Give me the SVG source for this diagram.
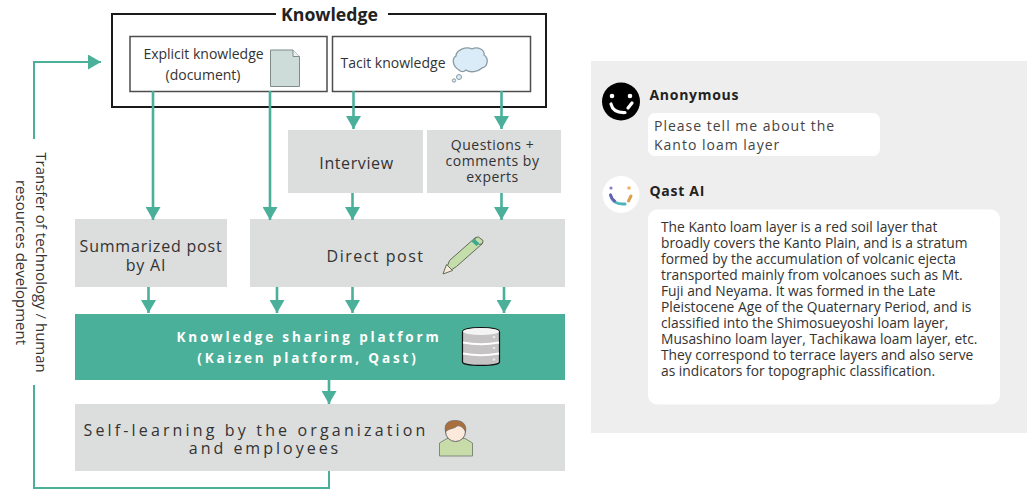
<svg xmlns="http://www.w3.org/2000/svg" width="1029" height="489" viewBox="0 0 1029 489">
<style>
text{font-family:"Open Sans","Noto Sans","Liberation Sans",sans-serif;fill:#333;text-anchor:middle}
.box{fill:#dcdddd}
.k{fill:#fff;stroke:#4d4d4d;stroke-width:1.5}
.ln{fill:none;stroke:#4bb09a;stroke-width:2.6}
.thin{fill:none;stroke:#4bb09a;stroke-width:2}
.ans{text-anchor:start;font-size:13.800px;fill:#333}
.name{text-anchor:start;font-weight:700;font-size:14px;letter-spacing:.7px;fill:#222}
.q{text-anchor:start;font-size:14px;letter-spacing:1px;fill:#444}
.pf{font-size:13.500px;font-weight:700;letter-spacing:2.850px;fill:#fff}
</style>
<defs>
<marker id="a" markerUnits="userSpaceOnUse" markerWidth="13" markerHeight="15" refX="13" refY="7.500" orient="auto"><path d="M0 0L13 7.500L0 15Z" fill="#4bb09a"/></marker>
</defs>
<g id="knowledge">
<path d="M276 14H112V107H546V14H388" fill="#fff" stroke="#1a1a1a" stroke-width="2"/>
<text x="329.500" y="21" font-size="17.700" font-weight="700" style="fill:#222">Knowledge</text>
</g>
<g id="explicit">
<rect class="k" x="130" y="36.500" width="197" height="55"/>
<text x="203.500" y="59" font-size="14">Explicit knowledge</text>
<text x="203" y="80" font-size="14">(document)</text>
<path d="M270.500 50H293L299.500 56.500V86.500H270.500Z" fill="#cddcd9" stroke="#7f8c8a"/>
<path d="M293 50V56.500H299.500" fill="#eef2f1" stroke="#7f8c8a"/>
</g>
<g id="tacit">
<rect class="k" x="332.500" y="36.500" width="198" height="55"/>
<text x="393" y="68" font-size="14">Tacit knowledge</text>
<path d="M459 70C452 66 452 58 456 56C456 50 466 46 472 49C478 46 485 50 484 55C489 58 488 67 482 68C478 72 470 73 466 70C464 72 461 72 459 70Z" fill="#d9ecf8" stroke="#8a9aa0" stroke-width="1.300"/>
<circle cx="459" cy="77" r="2.500" fill="#d9ecf8" stroke="#8a9aa0"/>
<circle cx="454" cy="80.500" r="1.700" fill="#d9ecf8" stroke="#8a9aa0"/>
</g>
<g id="interview">
<rect class="box" x="288" y="130" width="135" height="63"/>
<text x="356.500" y="169" font-size="16" letter-spacing=".6">Interview</text>
</g>
<g id="questions">
<rect class="box" x="427" y="130" width="134" height="63"/>
<text x="492.500" y="150" font-size="14" letter-spacing=".5">Questions +</text>
<text x="492.500" y="166" font-size="14" letter-spacing=".5">comments by</text>
<text x="492.500" y="182" font-size="14" letter-spacing=".5">experts</text>
</g>
<g id="summarized">
<rect class="box" x="75" y="219" width="152" height="68"/>
<text x="151" y="252" font-size="16" letter-spacing=".8">Summarized post</text>
<text x="146" y="271" font-size="16" letter-spacing=".8">by AI</text>
</g>
<g id="direct">
<rect class="box" x="250" y="219" width="315" height="68"/>
<text x="375.500" y="262" font-size="16" letter-spacing="1.500">Direct post</text>
<g transform="translate(1.500 0.500)">
<path d="M445 268L448 260L474 237L481 243L455 266L449 270Z" fill="#c5dcab" stroke="#5f6b57" stroke-width="1"/>
<path d="M474 237L477 236.500L481.500 240L481 243L478 244L473 240Z" fill="#c5dcab" stroke="#5f6b57" stroke-width="1"/>
<path d="M470 241L475 245.500L478 243L473 238.500Z" fill="#3aa892"/>
<path d="M441.500 273.500L445 264L451 270Z" fill="#f7ead8" stroke="#5f6b57" stroke-width="1"/>
</g>
</g>
<g id="platform">
<rect x="75" y="314" width="490" height="66" fill="#4bb09a"/>
<text class="pf" x="309" y="341.500" style="fill:#fff">Knowledge sharing platform</text>
<text class="pf" x="308" y="362.500" style="fill:#fff">(Kaizen platform, Qast)</text>
<path d="M462.500 332C462.500 326 499.500 326 499.500 332V362C499.500 366.500 462.500 366.500 462.500 362Z" fill="#c5c3c3" stroke="#111" stroke-width="1.200"/>
<ellipse cx="481" cy="331.500" rx="18" ry="3.500" fill="#f4f4f4"/>
<path d="M463 342.500Q481 346 499 342.500M463 353.500Q481 357 499 353.500" fill="none" stroke="#fff" stroke-width="1.800"/>
<circle cx="494" cy="337" r="1.300" fill="#e8e8e8"/><circle cx="494" cy="348" r="1.300" fill="#e8e8e8"/><circle cx="494" cy="359.500" r="1.300" fill="#e8e8e8"/>
</g>
<g id="self-learning">
<rect class="box" x="75" y="404" width="490" height="67"/>
<text x="256" y="436" font-size="16" letter-spacing="3.150">Self-learning by the organization</text>
<text x="265" y="454" font-size="16" letter-spacing="3">and employees</text>
<path d="M439.500 456V443L447 438.500H465L472.500 443V456Z" fill="#c8dcaa" stroke="#808a7a" stroke-width="1"/>
<circle cx="455.500" cy="431.500" r="10" fill="#fde8dc" stroke="#666" stroke-width="1"/>
<path d="M445.500 432C443.500 422 450 420.500 455.500 420.500C462 420.500 467 424 465.500 432C464 428 460 425 457 426C454 429 449 428 445.500 432Z" fill="#a9703e" stroke="#666" stroke-width=".7"/>
</g>
<g id="transfer-label">
<text transform="translate(36 262.500) rotate(90)" font-size="15">Transfer of technology / human</text>
<text transform="translate(16 262.500) rotate(90)" font-size="15">resources development</text>
</g>
<g id="connectors">
<path class="ln" marker-end="url(#a)" d="M153 91V220"/>
<path class="ln" marker-end="url(#a)" d="M270 91V220"/>
<path class="ln" marker-end="url(#a)" d="M353.500 91V129"/>
<path class="ln" marker-end="url(#a)" d="M501.500 91V129"/>
<path class="ln" marker-end="url(#a)" d="M352.500 193V220"/>
<path class="ln" marker-end="url(#a)" d="M501.500 193V220"/>
<path class="ln" marker-end="url(#a)" d="M148.500 287V313"/>
<path class="ln" marker-end="url(#a)" d="M277 287V313"/>
<path class="ln" marker-end="url(#a)" d="M352.500 287V313"/>
<path class="ln" marker-end="url(#a)" d="M504 287V313"/>
<path class="ln" marker-end="url(#a)" d="M329 380V404"/>
<path class="thin" d="M329 471V488H34V385"/>
<path class="thin" marker-end="url(#a)" d="M34 139V62H101"/>
</g>
<g id="chat-panel">
<rect x="591" y="61" width="436" height="372" fill="#eeeeee"/>
</g>
<g id="anonymous">
<circle cx="621" cy="101.500" r="19" fill="#000"/>
<circle cx="612" cy="96" r="2.300" fill="#fff"/><circle cx="630" cy="96" r="2.300" fill="#fff"/>
<path d="M611 104Q613 113 625 112.500" fill="none" stroke="#fff" stroke-width="3.200" stroke-linecap="round"/>
<path d="M632 103L628 108" fill="none" stroke="#fff" stroke-width="3.200" stroke-linecap="round"/>
<text class="name" x="649.500" y="100">Anonymous</text>
<rect x="648" y="113" width="232" height="43" rx="7" fill="#fff"/>
<text class="q" x="654" y="131">Please tell me about the</text>
<text class="q" x="654" y="150">Kanto loam layer</text>
</g>
<g id="qast">
<circle cx="621" cy="194.500" r="18.500" fill="#fff"/>
<circle cx="611" cy="188" r="1.600" fill="#8b7cc8"/><circle cx="629" cy="188" r="1.800" fill="#f2b45a"/>
<path d="M610.500 195Q613 205 625 204" fill="none" stroke="#4db5bd" stroke-width="3" stroke-linecap="round"/>
<path d="M610.500 195Q611.500 199 614.500 201" fill="none" stroke="#6b5fb5" stroke-width="3" stroke-linecap="round"/>
<path d="M631 196L628.500 201" fill="none" stroke="#d9a04e" stroke-width="3" stroke-linecap="round"/>
<text class="name" x="649.500" y="196">Qast AI</text>
<rect x="648" y="209.500" width="352" height="195" rx="9" fill="#fff"/>
<text class="ans" x="661" y="232">The Kanto loam layer is a red soil layer that</text>
<text class="ans" x="661" y="248">broadly covers the Kanto Plain, and is a stratum</text>
<text class="ans" x="661" y="264">formed by the accumulation of volcanic ejecta</text>
<text class="ans" x="661" y="280">transported mainly from volcanoes such as Mt.</text>
<text class="ans" x="661" y="296">Fuji and Neyama. It was formed in the Late</text>
<text class="ans" x="661" y="312">Pleistocene Age of the Quaternary Period, and is</text>
<text class="ans" x="661" y="328">classified into the Shimosueyoshi loam layer,</text>
<text class="ans" x="661" y="344">Musashino loam layer, Tachikawa loam layer, etc.</text>
<text class="ans" x="661" y="360">They correspond to terrace layers and also serve</text>
<text class="ans" x="661" y="376">as indicators for topographic classification.</text>
</g>
</svg>
